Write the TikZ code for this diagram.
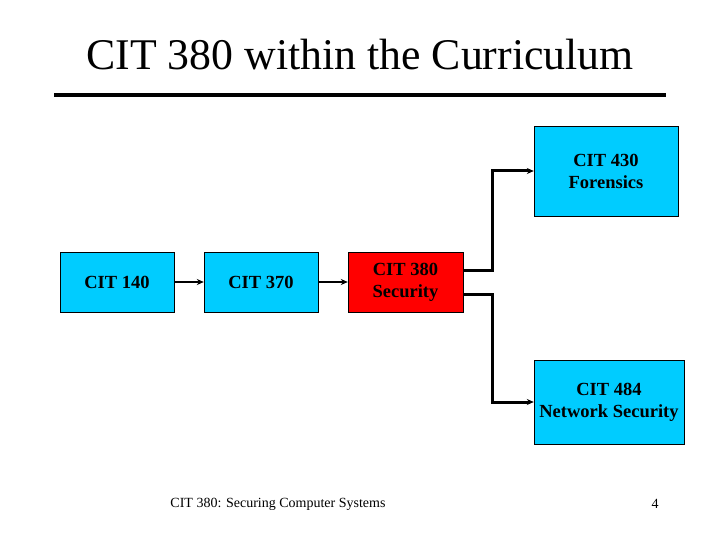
\documentclass[tikz,border=0pt]{standalone}
\usepackage{fontspec}
\setmainfont{Liberation Serif}
\usetikzlibrary{arrows.meta}
\definecolor{skyblue}{RGB}{0,204,255}

\begin{document}
\begin{tikzpicture}[x=1pt, y=-1pt, >={Stealth[length=7pt, width=6pt]},
  course/.style={draw, fill=skyblue, inner sep=0pt, align=center,
    font=\fontsize{18.5}{22}\selectfont\bfseries}]
  \useasboundingbox (0,0) rectangle (720,540);
  \node (title) at (360,55) {\fontsize{43.8}{50}\selectfont CIT 380 within the Curriculum};
  \draw[line width=4pt] (54,95) -- (666,95);
  \node[course, minimum width=114pt, minimum height=60pt] (c140) at (117,282) {CIT 140};
  \node[course, minimum width=114pt, minimum height=60pt] (c370) at (261,282) {CIT 370};
  \node[course, fill=red, minimum width=115pt, minimum height=60pt] (c380) at (405.5,282) {CIT 380\\Security};
  \node[course, minimum width=144pt, minimum height=90pt] (c430) at (606,171) {CIT 430\\Forensics};
  \node[course, minimum width=150pt, minimum height=84pt] (c484) at (609,402) {CIT 484\\Network Security};
  \draw[->, line width=2pt] (c140) -- (c370);
  \draw[->, line width=2pt] (c370) -- (c380);
  \draw[->, line width=3pt] ([yshift=12pt]c380.east) -- ++(29,0) |- (c430.west);
  \draw[->, line width=3pt] ([yshift=-12pt]c380.east) -- ++(29,0) |- (c484.west);
  \node (foot) at (278,504) {\fontsize{14}{16}\selectfont CIT 380: Securing Computer Systems};
  \node (page) at (655,504) {\fontsize{14}{16}\selectfont 4};
\end{tikzpicture}
\end{document}
